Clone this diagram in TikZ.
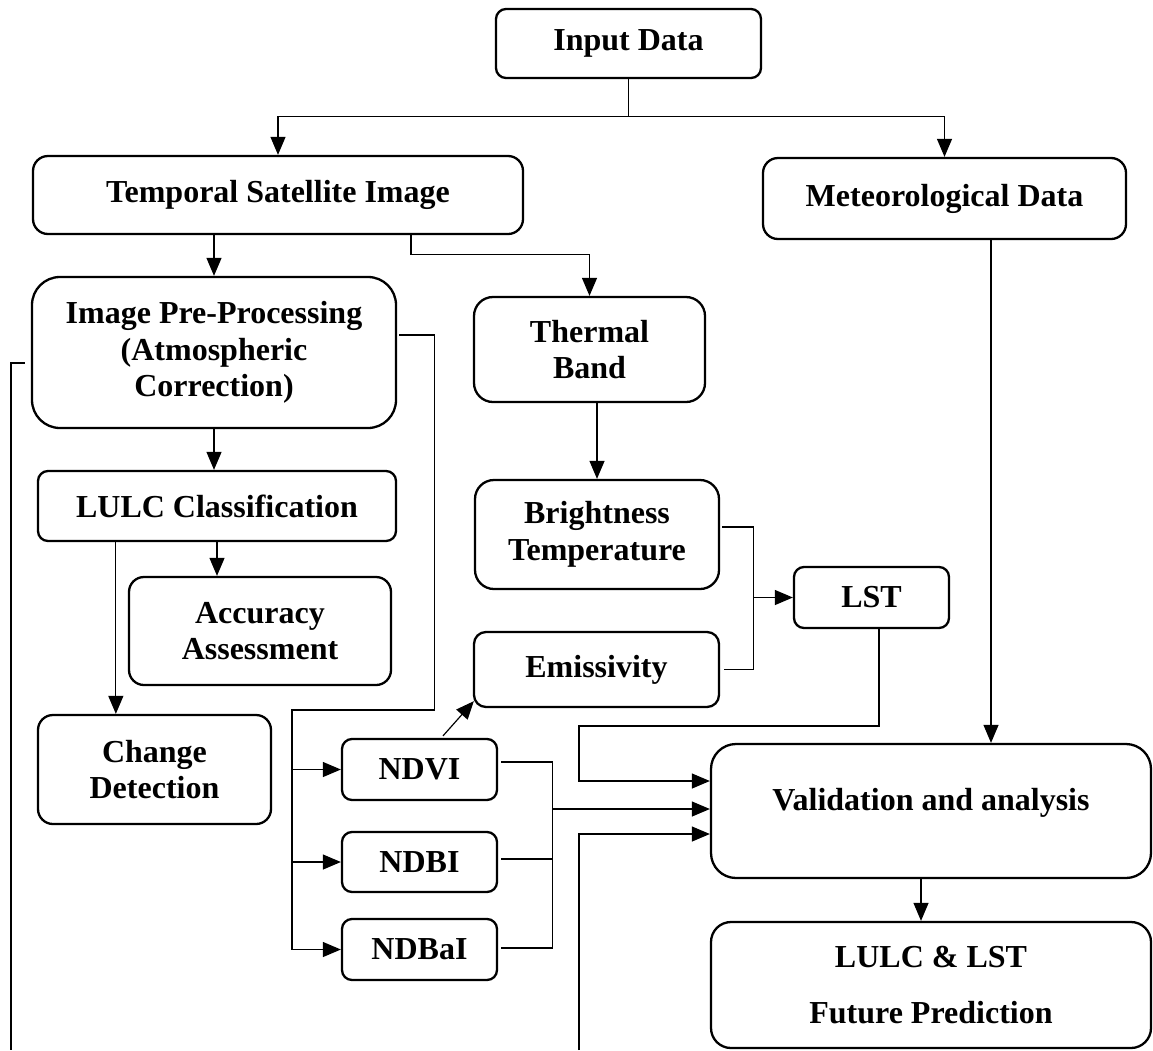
\documentclass[tikz,border=0pt]{standalone}
\usepackage{fontspec}
\setmainfont{Liberation Serif}
\usetikzlibrary{arrows.meta,calc}
\begin{document}
\begin{tikzpicture}[x=1pt,y=-1pt,
  box/.style={draw,line width=2.3pt,rounded corners=#1,inner sep=0pt,align=center,
    font=\bfseries\fontsize{32}{36.5}\selectfont},
  box/.default=12pt,
  line/.style={line width=1.2pt},
  conn/.style={line,-{Triangle[length=18pt,width=15pt]}}]
\useasboundingbox (0,0) rectangle (1153,1050);

% boxes
\node[box=10pt,minimum width=265pt,minimum height=69pt] (input) at (628.5,43.5) {Input Data};
\node[box=15pt,minimum width=490pt,minimum height=78pt] (tsi) at (278,195) {Temporal Satellite Image};
\node[box=15pt,minimum width=363pt,minimum height=81pt] (met) at (944.5,198.5) {Meteorological Data};
\node[box=28pt,minimum width=364pt,minimum height=151pt] (pre) at (214,352.5) {Image Pre-Processing\\(Atmospheric\\Correction)};
\node[box=19pt,minimum width=231pt,minimum height=105pt] (thermal) at (589.5,349.5) {Thermal\\Band};
\node[box=10pt,minimum width=358pt,minimum height=70pt] (lulc) at (217,506) {LULC Classification};
\node[box=15pt,minimum width=262pt,minimum height=108pt] (acc) at (260,631) {Accuracy\\Assessment};
\node[box=19pt,minimum width=244pt,minimum height=109pt] (bright) at (597,534.5) {Brightness\\Temperature};
\node[box=10pt,minimum width=155pt,minimum height=61pt] (lst) at (871.5,597.5) {LST};
\node[box=12pt,minimum width=245pt,minimum height=75pt] (emis) at (596.5,669.5) {Emissivity};
\node[box=15pt,minimum width=233pt,minimum height=109pt] (change) at (154.5,769.5) {Change\\Detection};
\node[box=10pt,minimum width=155pt,minimum height=61pt] (ndvi) at (419.5,769.5) {NDVI};
\node[box=10pt,minimum width=155pt,minimum height=60pt] (ndbi) at (419.5,862) {NDBI};
\node[box=10pt,minimum width=155pt,minimum height=61pt] (ndbai) at (419.5,949.5) {NDBaI};
\node[box=25pt,minimum width=440pt,minimum height=134pt] (valid) at (931,811) {};
\node[font=\bfseries\fontsize{32}{36.5}\selectfont,inner sep=0pt] (validtxt) at ([yshift=8pt]valid.center) {Validation and analysis};
\node[box=20pt,minimum width=440pt,minimum height=126pt,
  font=\bfseries\fontsize{32}{56}\selectfont] (pred) at (931,985) {LULC \& LST\\Future Prediction};

% input data split
\draw[conn] (input.south) -- ++(0,37) -| (tsi.north);
\draw[conn] (input.south) -- ++(0,37) -| (met.north);

% satellite image branches
\draw[conn] (tsi.south -| pre.north) -- (pre.north);
\draw[conn] ($(tsi.south)+(133,0)$) -- ++(0,19) -| (thermal.north);

% pre-processing chain
\draw[conn] (pre.south) -- (pre.south |- lulc.north);
\draw[conn] (lulc.south) -- (lulc.south |- acc.north);
\coordinate (lc) at ($(lulc.south west)+(79,0)$);
\draw[conn] (lc) -- (lc |- change.north);

% pre-processing to spectral indices
\coordinate (bus) at (292,710);
\draw[line] ($(pre.east)+(2,-17.5)$) -- ++(35,0) |- (bus) -- (bus |- ndbai.west);
\draw[conn] (bus |- ndvi.west) -- (ndvi.west);
\draw[conn] (bus |- ndbi.west) -- (ndbi.west);
\draw[conn] (bus |- ndbai.west) -- (ndbai.west);

% long line at the left edge
\coordinate (leftend) at (11,1050);
\draw[line] ($(pre.west)+(-6,10.5)$) -| (leftend);

% thermal chain
\draw[conn] (thermal.south -| bright.north) -- (bright.north);
\draw[line] ($(bright.east)+(2,-7.5)$) -- ++(31,0) coordinate (bj) |- ($(emis.east)+(4,0)$);
\draw[conn] (bj |- lst.west) -- (lst.west);
\draw[conn] ($(ndvi.north)+(23.5,-2)$) -- ($(emis.south west)+(1,-7)$);

% indices to validation
\draw[line] ($(ndvi.east)+(3,-7.5)$) -- ++(51,0) coordinate (nj) |- ($(ndbai.east)+(3,-1.5)$);
\draw[line] ($(ndbi.east)+(3,-3)$) -- ($(nj |- ndbi.east)+(0,-3)$);
\draw[conn] ($(nj |- valid.west)+(0,-2)$) -- ($(valid.west)+(0,-2)$);

% LST and the lower feed to validation
\draw[conn] ($(lst.south)+(7.5,0)$) |- (579,726) |- ($(valid.west)+(0,-30)$);
\coordinate (bottomfeed) at (579,1050);
\draw[conn] (bottomfeed) |- ($(valid.west)+(0,23)$);

% meteorological data to validation
\draw[conn] ($(met.south)+(46.5,0)$) coordinate (mj) -- (mj |- valid.north);

% validation to prediction
\draw[conn] ($(valid.south)+(-10,0)$) -- ($(pred.north)+(-10,0)$);
\end{tikzpicture}
\end{document}
